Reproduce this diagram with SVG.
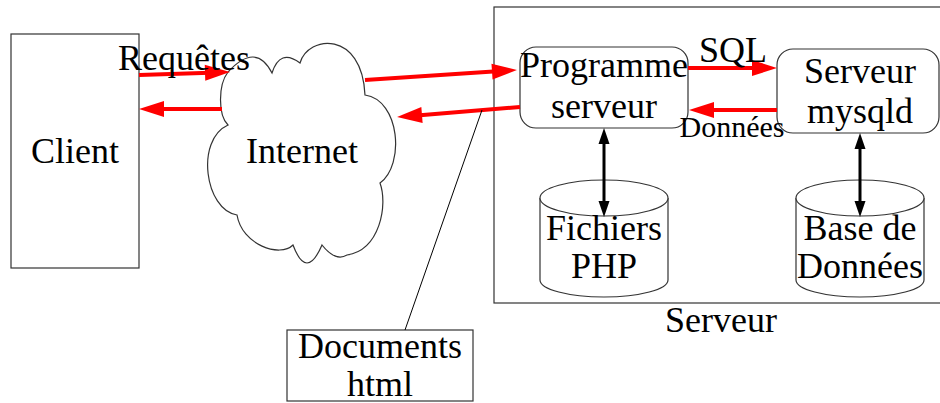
<svg xmlns="http://www.w3.org/2000/svg" width="940" height="403" viewBox="0 0 940 403">
<style>
text{font-family:"Liberation Serif","Times New Roman",serif;font-size:36px;fill:#000;text-anchor:middle}
.small{font-size:30px}
.box{fill:#fff;stroke:#333;stroke-width:1.2}
.red{stroke:#ff0000;stroke-width:4;fill:none;marker-end:url(#rh)}
.blk{stroke:#000;stroke-width:3;fill:none;marker-end:url(#bh);marker-start:url(#bh)}
</style>
<defs>
<marker id="rh" markerUnits="userSpaceOnUse" markerWidth="26" markerHeight="16" refX="5" refY="8" orient="auto" overflow="visible"><path d="M0,0 L25,8 L0,16 z" fill="#ff0000"/></marker>
<marker id="bh" markerUnits="userSpaceOnUse" markerWidth="17" markerHeight="11" refX="4" refY="5.5" orient="auto-start-reverse" overflow="visible"><path d="M0,0 L16,5.5 L0,11 z" fill="#000"/></marker>
</defs>
<g id="serveur">
<rect class="box" x="494" y="7" width="470" height="296" fill="none"/>
<text x="721" y="332">Serveur</text>
</g>
<g id="client">
<rect class="box" x="11" y="34" width="128" height="234"/>
<text x="75" y="163">Client</text>
</g>
<g id="internet">
<path class="box" stroke-width="1" d="M228,72 Q256,41.5 272,73 Q280,48 300,63 C308,35 362,30 365,95 C400,100 405,165 380,183 C388,205 380,250 347,255 Q335.5,262 322,245 Q306.5,281 293,245 C280,258 242,245 237,215 C205,210 195,140 228,125 C218,115 218,85 228,72 z"/>
<text x="302" y="163">Internet</text>
</g>
<g id="programme">
<rect class="box" x="520" y="47" width="168" height="81" rx="16"/>
<text x="604" y="77">Programme</text>
<text x="604" y="118">serveur</text>
</g>
<g id="mysqld">
<rect class="box" x="777" y="49" width="162" height="84" rx="16"/>
<text x="860" y="83">Serveur</text>
<text x="860" y="123">mysqld</text>
</g>
<g id="fichiers">
<path class="box" d="M540,198 L540,280 A64,17 0 0 0 668,280 L668,198"/>
<ellipse class="box" cx="604" cy="198" rx="64" ry="18"/>
<text x="604" y="240">Fichiers</text>
<text x="604" y="278">PHP</text>
</g>
<g id="base">
<path class="box" d="M796,198 L796,280 A64,17 0 0 0 924,280 L924,198"/>
<ellipse class="box" cx="860" cy="198" rx="64" ry="18"/>
<text x="860" y="240">Base de</text>
<text x="860" y="278">Données</text>
</g>
<g id="documents">
<rect class="box" x="287" y="330" width="186" height="71"/>
<text x="380" y="358">Documents</text>
<text x="380" y="396">html</text>
</g>
<g id="connectors">
<line class="red" x1="139" y1="75" x2="210" y2="72.7"/>
<line class="red" x1="222" y1="109" x2="159" y2="109"/>
<line class="red" x1="365" y1="80" x2="497" y2="71.3"/>
<line class="red" x1="520" y1="107" x2="417" y2="115.4"/>
<line class="red" x1="688" y1="68" x2="757" y2="68"/>
<line class="red" x1="777" y1="110" x2="709" y2="110"/>
<line class="blk" x1="604" y1="140" x2="604" y2="205"/>
<line class="blk" x1="860" y1="145" x2="860" y2="205"/>
<line x1="405" y1="330" x2="482" y2="110" stroke="#000" stroke-width="1"/>
<text x="184" y="70">Requêtes</text>
<text x="733" y="62">SQL</text>
<text class="small" x="732" y="137">Données</text>
</g>
</svg>
